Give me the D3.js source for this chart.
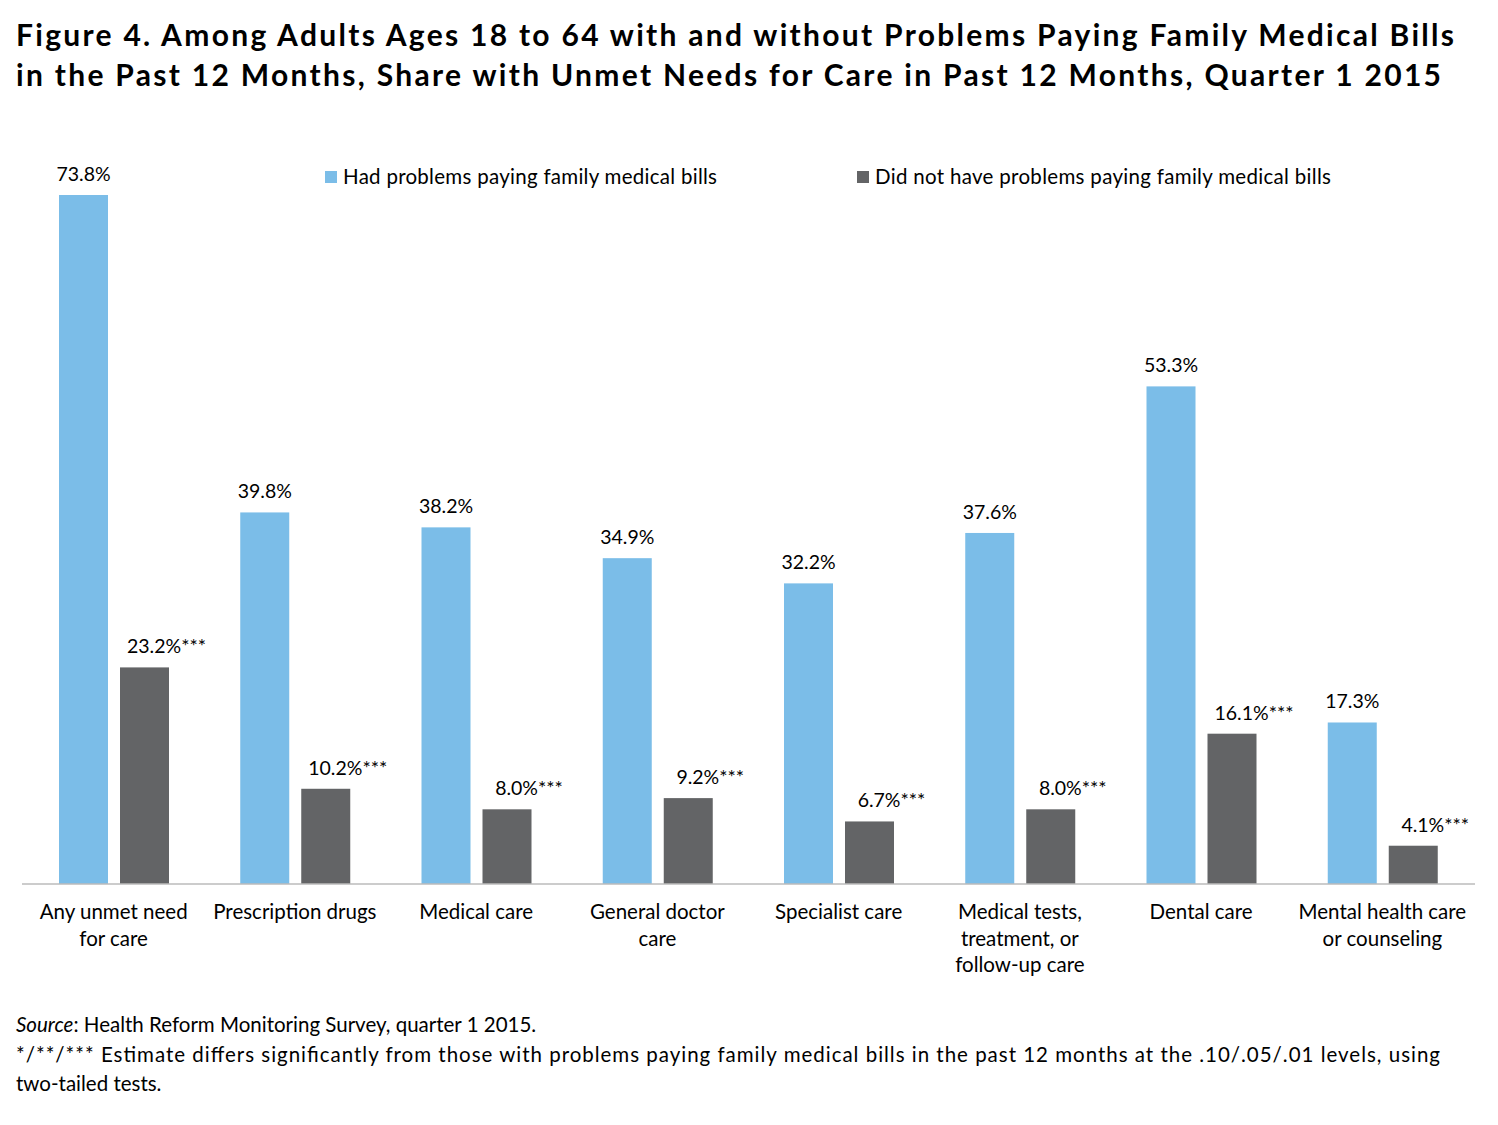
<!DOCTYPE html>
<html><head><meta charset="utf-8">
<script src="https://cdn.jsdelivr.net/npm/d3@7"></script>
<style>body{margin:0;background:#fff;font-family:Lato,"Open Sans",sans-serif;}</style>
</head><body><div id="chart"></div>
<script>
var categories = [["Any unmet need","for care"],["Prescription drugs"],["Medical care"],["General doctor","care"],["Specialist care"],["Medical tests,","treatment, or","follow-up care"],["Dental care"],["Mental health care","or counseling"]];
var hadProblems = [73.8, 39.8, 38.2, 34.9, 32.2, 37.6, 53.3, 17.3];
var noProblems = [23.2, 10.2, 8.0, 9.2, 6.7, 8.0, 16.1, 4.1];
var seriesNames = ["Had problems paying family medical bills", "Did not have problems paying family medical bills"];
var colors = ["#7bbde8", "#636466"];

var svg = d3.select("#chart").append("svg").attr("width", 1498).attr("height", 1125);

svg.append("text").attr("x", 16).attr("y", 46).attr("font-size", 30).attr("font-weight", "bold")
  .attr("textLength", 1438).attr("lengthAdjust", "spacing")
  .text("Figure 4. Among Adults Ages 18 to 64 with and without Problems Paying Family Medical Bills");
svg.append("text").attr("x", 16).attr("y", 86).attr("font-size", 30).attr("font-weight", "bold")
  .attr("textLength", 1425).attr("lengthAdjust", "spacing")
  .text("in the Past 12 Months, Share with Unmet Needs for Care in Past 12 Months, Quarter 1 2015");

var baseY = 884;
var x0 = d3.scaleBand().domain(d3.range(categories.length)).range([23, 1473]);
var y = d3.scaleLinear().domain([0, 73.8]).range([baseY, 195]);
var barW = 49;

var g = svg.append("g").selectAll("g").data(categories).enter().append("g");
[hadProblems, noProblems].forEach(function(vals, s) {
  g.append("rect")
    .attr("x", function(d, i) { return x0(i) + 36 + s * 61; })
    .attr("y", function(d, i) { return y(vals[i]); })
    .attr("width", barW)
    .attr("height", function(d, i) { return baseY - y(vals[i]); })
    .attr("fill", colors[s]);
  g.append("text")
    .attr("x", function(d, i) { return x0(i) + 36 + s * 61 + barW / 2 + (s ? 22 : 0); })
    .attr("y", function(d, i) { return y(vals[i]) - 14; })
    .attr("text-anchor", "middle").attr("font-size", 19.5)
    .text(function(d, i) { return vals[i].toFixed(1) + "%" + (s ? "***" : ""); });
});

svg.append("line").attr("x1", 22).attr("x2", 1475).attr("y1", baseY).attr("y2", baseY)
  .attr("stroke", "#bbb").attr("stroke-width", 1.5);

g.each(function(d, i) {
  var t = d3.select(this).append("text").attr("text-anchor", "middle").attr("font-size", 20.5);
  d.forEach(function(line, j) {
    t.append("tspan").attr("x", x0(i) + x0.bandwidth() / 2).attr("y", 919 + j * 26.5).text(line);
  });
});

var legX = [325, 857];
var legLen = [374, 456];
seriesNames.forEach(function(n, s) {
  svg.append("rect").attr("x", legX[s]).attr("y", 171).attr("width", 12).attr("height", 12).attr("fill", colors[s]);
  svg.append("text").attr("x", legX[s] + 18).attr("y", 184).attr("font-size", 20.5)
    .attr("textLength", legLen[s]).attr("lengthAdjust", "spacing").text(n);
});

var src = svg.append("text").attr("x", 16).attr("y", 1032).attr("font-size", 20.5);
src.append("tspan").attr("font-style", "italic").text("Source");
src.append("tspan").text(": Health Reform Monitoring Survey, quarter 1 2015.");
svg.append("text").attr("x", 16).attr("y", 1062).attr("font-size", 20.5)
  .attr("textLength", 1424).attr("lengthAdjust", "spacing")
  .text("*/**/*** Estimate differs significantly from those with problems paying family medical bills in the past 12 months at the .10/.05/.01 levels, using");
svg.append("text").attr("x", 16).attr("y", 1091).attr("font-size", 20.5).text("two-tailed tests.");
</script></body></html>
